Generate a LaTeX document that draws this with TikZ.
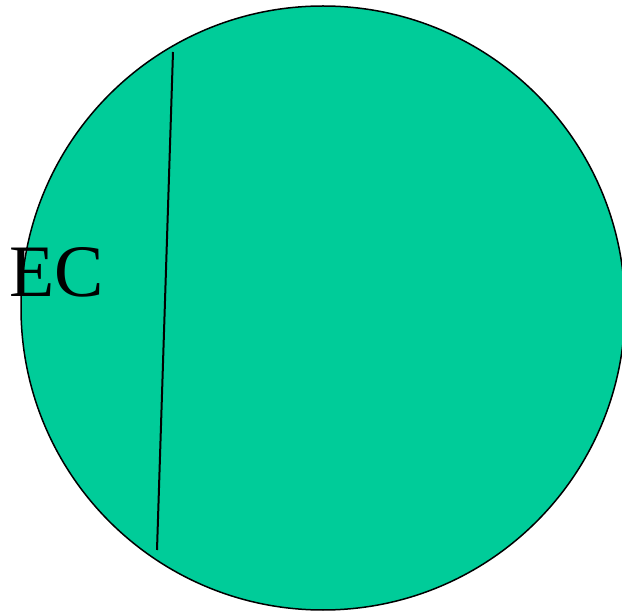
\documentclass[tikz,border=0pt]{standalone}
\usepackage{fontspec}
\setmainfont{Liberation Serif}
\definecolor{disc}{HTML}{00CC99}
\begin{document}
\begin{tikzpicture}[x=1pt,y=1pt,
  discstyle/.style={fill=disc,draw=black,line width=1.5pt},
  chord/.style={draw=black,line width=2pt},
  lbl/.style={font=\fontsize{74}{74}\selectfont,inner sep=0pt,anchor=base west}]
\useasboundingbox (0,0) rectangle (622,614);
\clip (0,0) rectangle (622,614);
\path[discstyle] (323,306) circle[radius=302];
\coordinate (top) at (173,562);
\coordinate (bot) at (157,64);
\draw[chord] (top) -- (bot);
\node[lbl] (ec) at (9,317) {EC};
\end{tikzpicture}
\end{document}
